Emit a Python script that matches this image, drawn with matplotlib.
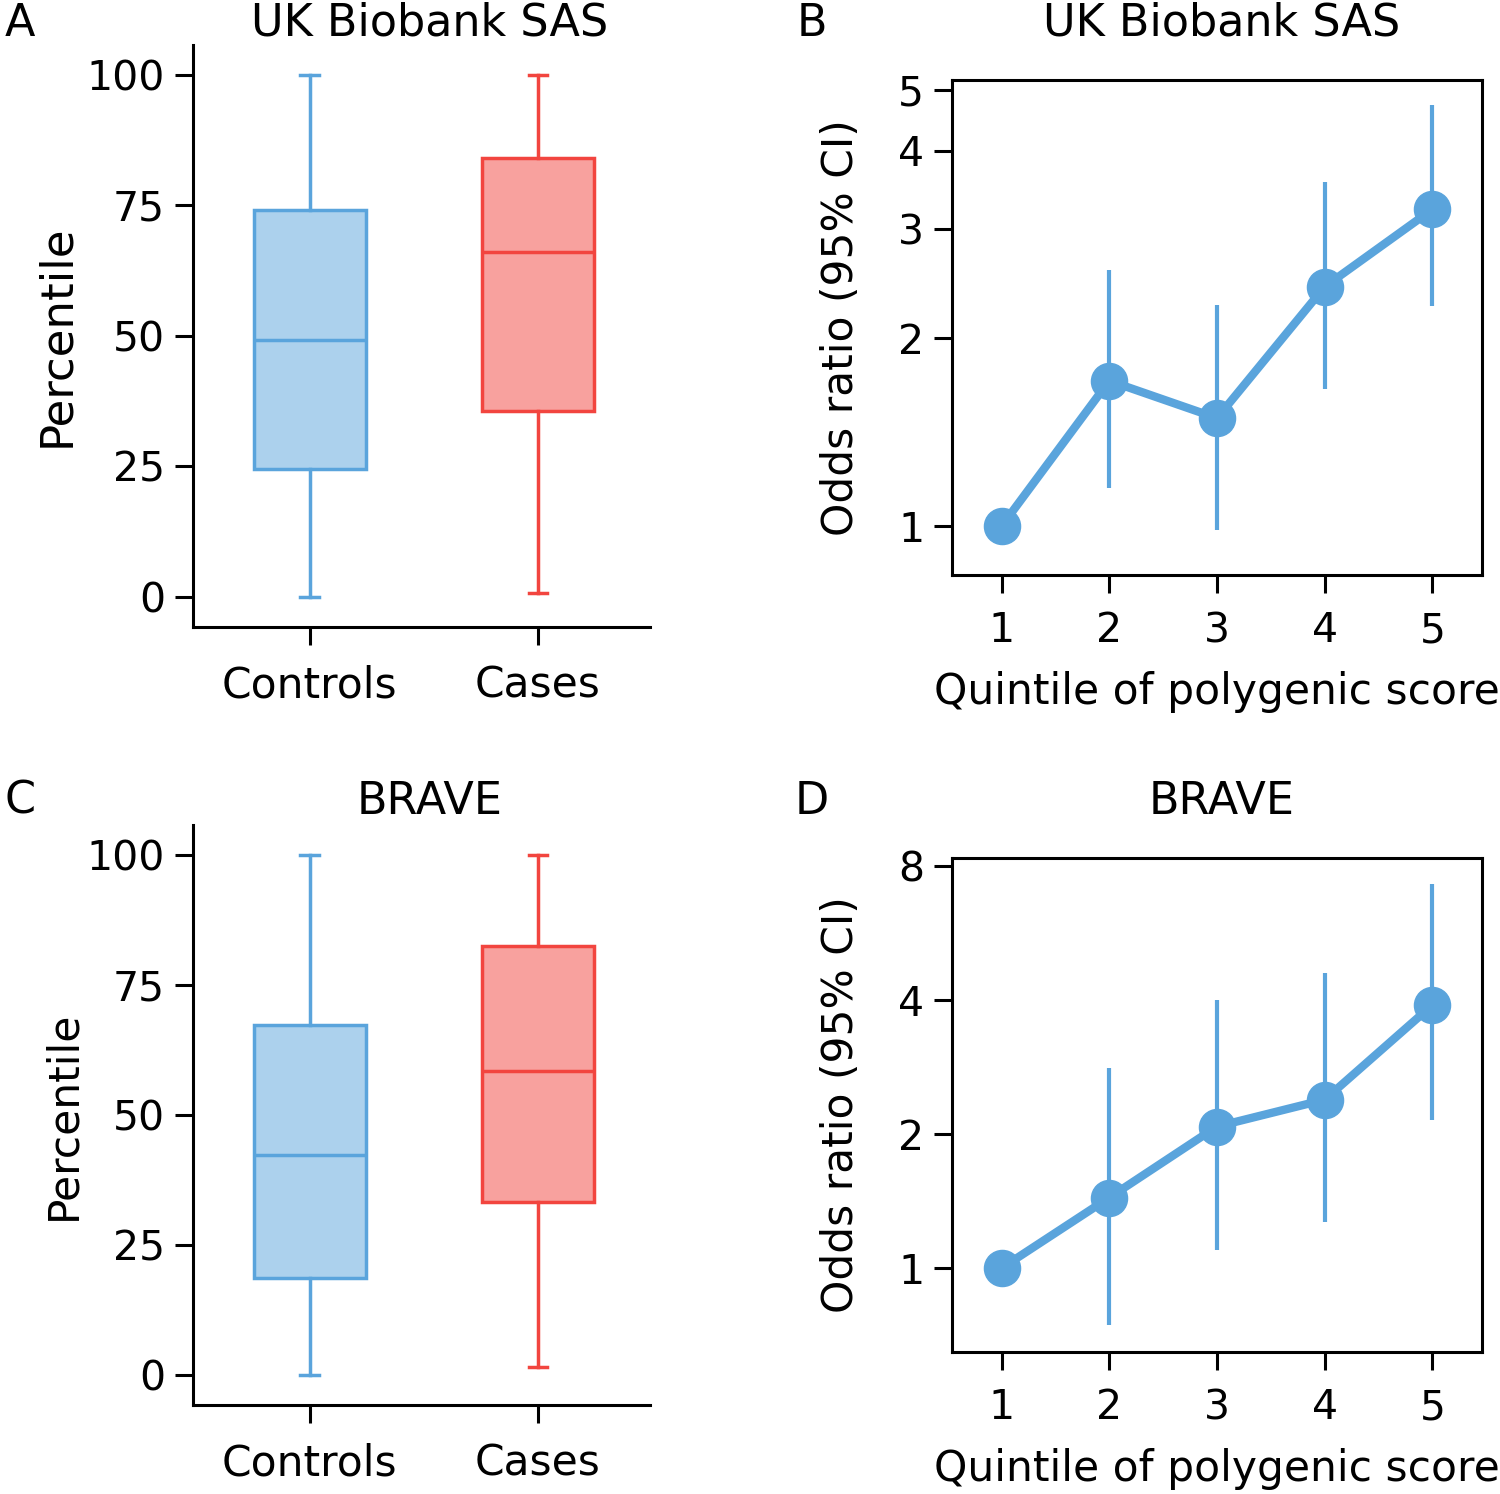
import numpy as np
import matplotlib
matplotlib.use("Agg")
import matplotlib.pyplot as plt
from matplotlib.colors import to_rgba

# box summaries (percentile of polygenic score)
groups = ["Controls", "Cases"]
ukb_q1 = [24.5, 35.6]
ukb_med = [49.2, 66.1]
ukb_q3 = [74.1, 84.1]
ukb_lo = [0.0, 0.8]
ukb_hi = [100.0, 100.0]

brave_q1 = [18.6, 33.2]
brave_med = [42.2, 58.5]
brave_q3 = [67.2, 82.5]
brave_lo = [0.0, 1.5]
brave_hi = [100.0, 100.0]

# odds ratios by quintile
quintiles = [1, 2, 3, 4, 5]
ukb_or = [1.0, 1.71, 1.49, 2.42, 3.22]
ukb_ci_lo = [1.0, 1.15, 0.985, 1.66, 2.25]
ukb_ci_hi = [1.0, 2.57, 2.26, 3.56, 4.73]

brave_or = [1.0, 1.44, 2.08, 2.39, 3.90]
brave_ci_lo = [1.0, 0.744, 1.10, 1.27, 2.15]
brave_ci_hi = [1.0, 2.81, 4.0, 4.60, 7.29]

blue = "#5aa4dc"
red = "#f2453f"
colors = [blue, red]

W, H = 1500, 1494
fig = plt.figure(figsize=(W / 100, H / 100), dpi=100)
plt.rcParams["font.family"] = "DejaVu Sans"


def px_axes(left, top, right, bottom):
    return fig.add_axes([left / W, 1 - bottom / H, (right - left) / W, (bottom - top) / H])


def style_ticks(ax):
    ax.tick_params(axis="both", length=13, width=2.2, labelsize=29.5, pad=7)
    for s in ax.spines.values():
        s.set_linewidth(2.2)


def box_panel(ax, q1, med, q3, lo, hi, ylab_size, ylab_pad):
    for i in range(len(groups)):
        c = colors[i]
        st = dict(q1=q1[i], med=med[i], q3=q3[i], whislo=lo[i], whishi=hi[i], fliers=[], label=groups[i])
        ax.bxp([st], positions=[i], widths=0.49, capwidths=0.08, patch_artist=True, showfliers=False,
               boxprops=dict(facecolor=to_rgba(c, 0.5), edgecolor=c, linewidth=2.5),
               medianprops=dict(color=c, linewidth=2.5),
               whiskerprops=dict(color=c, linewidth=2.5),
               capprops=dict(color=c, linewidth=2.5))
    ax.set_xlim(-0.51, 1.49)
    ax.set_ylim(-5.8, 105.7)
    ax.set_xticks([0, 1])
    ax.set_xticklabels(groups)
    ax.set_yticks([0, 25, 50, 75, 100])
    ax.spines["top"].set_visible(False)
    ax.spines["right"].set_visible(False)
    style_ticks(ax)
    ax.tick_params(axis="x", labelsize=30.5, pad=14)
    ax.set_ylabel("Percentile", fontsize=ylab_size, labelpad=ylab_pad)


def or_panel(ax, orv, lo, hi, ylim, yticks):
    orv = np.array(orv)
    yerr = [orv - np.array(lo), np.array(hi) - orv]
    ax.errorbar(quintiles, orv, yerr=yerr, fmt="none", ecolor=blue, elinewidth=3, capsize=0)
    ax.plot(quintiles, orv, "-o", color=blue, linewidth=6, markersize=26)
    ax.set_yscale("log")
    ax.set_ylim(*ylim)
    ax.set_xlim(0.54, 5.46)
    ax.set_xticks(quintiles)
    ax.set_yticks(yticks)
    ax.set_yticklabels([str(t) for t in yticks])
    ax.yaxis.set_minor_locator(matplotlib.ticker.NullLocator())
    style_ticks(ax)
    ax.tick_params(axis="x", pad=13)
    ax.set_ylabel("Odds ratio (95% CI)", fontsize=30.5, labelpad=26)
    ax.set_xlabel("Quintile of polygenic score", fontsize=30.5, labelpad=14)


axA = px_axes(193, 45, 650, 627)
box_panel(axA, ukb_q1, ukb_med, ukb_q3, ukb_lo, ukb_hi, 32.5, 6)

axC = px_axes(193, 825, 650, 1405)
box_panel(axC, brave_q1, brave_med, brave_q3, brave_lo, brave_hi, 30.5, 2)

axB = px_axes(952, 80, 1482, 575)
or_panel(axB, ukb_or, ukb_ci_lo, ukb_ci_hi, (0.835, 5.19), [1, 2, 3, 4, 5])

axD = px_axes(952, 858, 1482, 1352)
or_panel(axD, brave_or, brave_ci_lo, brave_ci_hi, (0.648, 8.34), [1, 2, 4, 8])

# titles and panel letters
fig.text(430 / W, 1 - 23 / H, "UK Biobank SAS", fontsize=32, ha="center", va="center")
fig.text(1222 / W, 1 - 23 / H, "UK Biobank SAS", fontsize=32, ha="center", va="center")
fig.text(430 / W, 1 - 801 / H, "BRAVE", fontsize=32, ha="center", va="center")
fig.text(1222 / W, 1 - 801 / H, "BRAVE", fontsize=32, ha="center", va="center")
for lab, x, y in [("A", 20, 23), ("B", 812, 23), ("C", 20, 801), ("D", 812, 801)]:
    fig.text(x / W, 1 - y / H, lab, fontsize=32, ha="center", va="center")

fig.savefig("out.png", dpi=100)
